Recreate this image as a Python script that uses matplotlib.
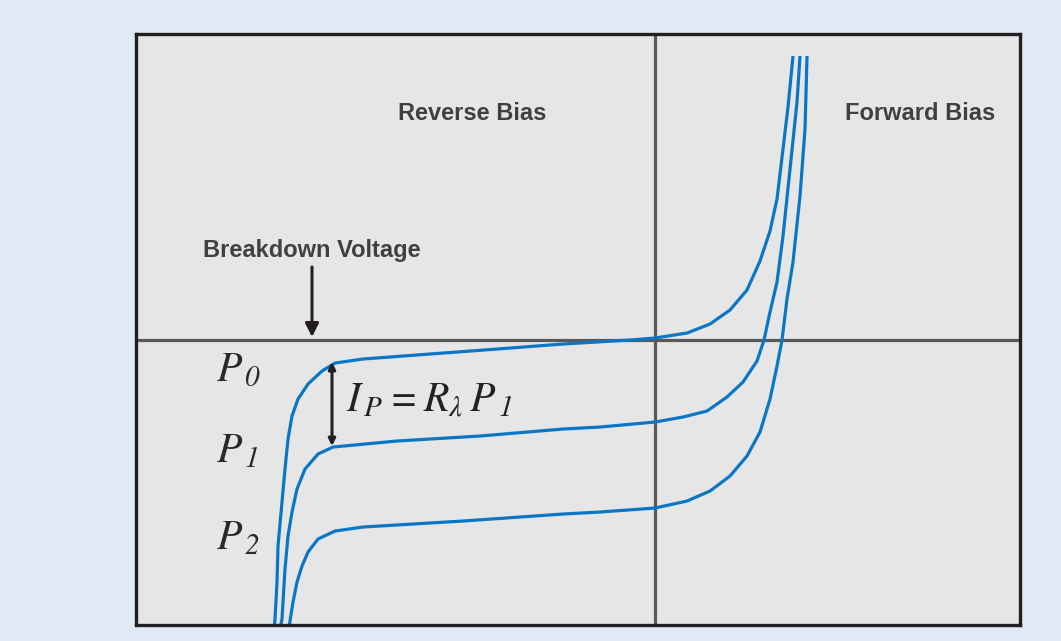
import matplotlib
matplotlib.use("Agg")
import matplotlib.pyplot as plt

# the italic font is used for both roman and italic so the subscript digits slant too
plt.rcParams['mathtext.fontset'] = 'custom'
plt.rcParams['mathtext.rm'] = 'STIXGeneral:italic'
plt.rcParams['mathtext.it'] = 'STIXGeneral:italic'
plt.rcParams['mathtext.bf'] = 'STIXGeneral:bold'

# photodiode I-V curves (V and I in arbitrary units)
v_p0 = [-38.1, -38.0, -37.8, -37.7, -37.3, -37.0, -36.7, -36.3, -35.7, -34.7, -33.3, -32.0, -29.2,
        -22.5, -15.8, -9.2, -2.5, 0.0, 3.2, 5.5, 7.5, 9.2, 10.5, 11.5, 12.2, 12.8, 13.3, 13.8]
i_p0 = [-28.9, -27.9, -24.2, -20.6, -16.2, -12.9, -9.9, -7.6, -5.9, -4.4, -3.1, -2.3, -1.9,
        -1.4, -0.9, -0.4, 0.0, 0.2, 0.7, 1.6, 3.0, 5.0, 7.9, 10.9, 14.1, 19.1, 23.3, 28.4]

v_p1 = [-37.5, -37.3, -37.0, -36.7, -36.3, -35.8, -35.0, -33.7, -32.2, -25.8, -17.5, -9.2, -5.5,
        0.0, 2.8, 5.2, 7.2, 8.8, 10.2, 10.9, 11.5, 12.2, 12.8, 13.5, 14.2, 14.5]
i_p1 = [-28.9, -27.9, -22.9, -19.6, -17.2, -14.9, -12.9, -11.4, -10.7, -10.1, -9.6, -8.9, -8.7,
        -8.2, -7.7, -7.1, -5.7, -4.2, -2.1, 0.0, 2.8, 5.8, 10.4, 17.1, 23.8, 28.4]

v_p2 = [-36.6, -36.5, -36.2, -35.8, -35.3, -34.7, -33.7, -32.0, -29.2, -19.2, -9.2, -5.5, 0.0,
        3.2, 5.5, 7.5, 9.2, 10.5, 11.5, 12.2, 12.7, 13.2, 13.8, 14.5, 15.0, 15.2]
i_p2 = [-28.9, -28.1, -26.2, -24.2, -22.6, -21.2, -19.9, -19.1, -18.7, -18.1, -17.4, -17.2, -16.8,
        -16.1, -15.1, -13.6, -11.6, -9.2, -5.9, -2.6, 0.0, 4.1, 7.8, 14.4, 21.1, 28.4]

curves = [(v_p0, i_p0), (v_p1, i_p1), (v_p2, i_p2)]
power_labels = [r'$P_{\,0}$', r'$P_{\,1}$', r'$P_{\,2}$']
power_label_y = [-4.1, -12.2, -20.9]

BLUE = '#0a77c6'
DARK = '#231f20'
AXIS = '#595959'

fig = plt.figure(figsize=(10.61, 6.41), dpi=100)
fig.patch.set_facecolor('#e0eaf5')
ax = fig.add_axes([0.1279, 0.0257, 0.8330, 0.9220])
ax.set_facecolor('#e6e6e6')

for v, i in curves:
    ax.plot(v, i, color=BLUE, lw=2.3, solid_joinstyle='round', solid_capstyle='butt')

ax.axhline(0, color=AXIS, lw=2.3, zorder=1)
ax.axvline(0, color=AXIS, lw=2.3, zorder=1)

ax.set_xlim(-51.93, 36.45)
ax.set_ylim(-28.45, 30.65)
ax.set_xticks([])
ax.set_yticks([])
for s in ax.spines.values():
    s.set_color(DARK)
    s.set_linewidth(2.4)

lab = dict(fontsize=17, fontweight='bold', color='#404040', family='Liberation Sans',
           ha='center', va='baseline')
ax.text(-18.3, 22.0, 'Reverse Bias', **lab)
ax.text(26.5, 22.0, 'Forward Bias', **lab)
ax.text(-34.35, 8.3, 'Breakdown Voltage', **lab)

# breakdown arrow
ax.annotate('', xy=(-34.3, 0.3), xytext=(-34.3, 7.3),
            arrowprops=dict(arrowstyle='-|>,head_length=0.8,head_width=0.4', color=DARK, lw=2.2,
                            shrinkA=0, shrinkB=0))
# photocurrent double arrow
ax.annotate('', xy=(-32.3, -2.2), xytext=(-32.3, -10.6),
            arrowprops=dict(arrowstyle='<|-|>,head_length=0.4,head_width=0.2', color=DARK, lw=2.2,
                            shrinkA=0, shrinkB=0))

for lbl, y in zip(power_labels, power_label_y):
    ax.text(-43.9, y, lbl, fontsize=30, color='#2a2a2a', ha='left', va='baseline')

ax.text(-30.9, -7.2, r'$I_{\,P} = R_{\lambda}\,P_{\,1}$', fontsize=30, color='#222222',
        ha='left', va='baseline')

fig.savefig('out.png', dpi=100, facecolor=fig.get_facecolor())
